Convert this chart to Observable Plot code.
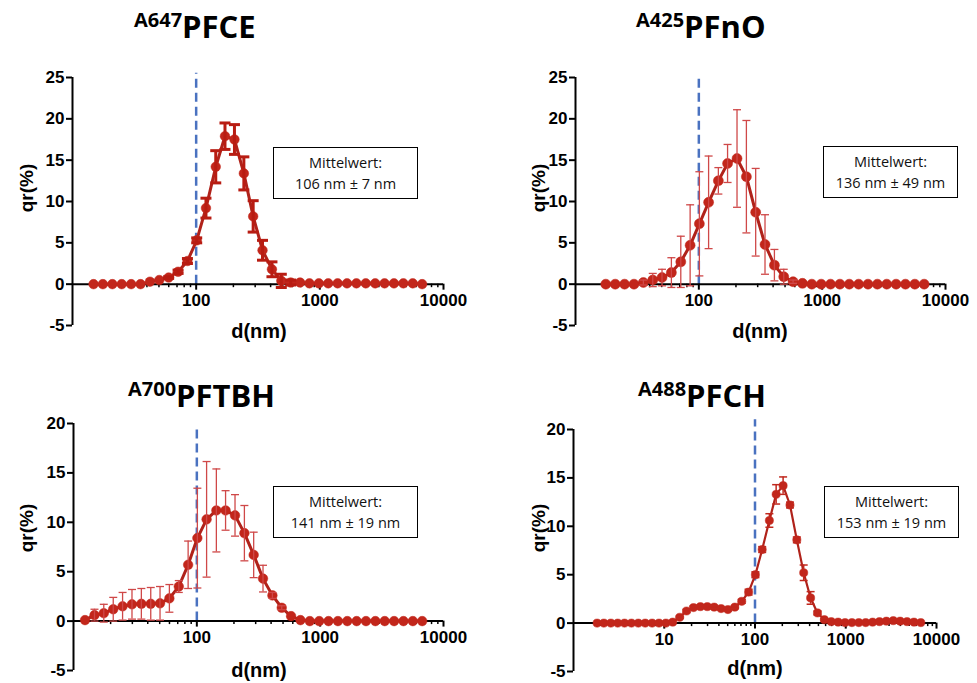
<!DOCTYPE html>
<html><head><meta charset="utf-8">
<script src="https://cdn.jsdelivr.net/npm/d3@7"></script>
<script src="https://cdn.jsdelivr.net/npm/@observablehq/plot@0.6"></script>
<style>
body{margin:0;background:#fff;}
#root{position:relative;width:977px;height:683px;overflow:hidden;background:#fff;}
.panel{position:absolute;}
.box{position:absolute;box-sizing:border-box;border:1.5px solid #000;background:#fff;display:flex;flex-direction:column;justify-content:center;align-items:center;font-family:"Open Sans",sans-serif;font-size:14.5px;line-height:21px;color:#111;}
#overlay{position:absolute;left:0;top:0;pointer-events:none;}
</style></head><body><div id="root"></div>
<script>
// Size bins (nm), log-spaced
const diameters = [1.82, 2.16, 2.58, 3.07, 3.65, 4.35, 5.18, 6.17, 7.35, 8.75, 10.42,
  12.4, 14.8, 17.6, 21.0, 25.0, 29.8, 35.5, 42.3, 50.3, 59.9, 71.4, 85.0, 101,
  120, 144, 171, 204, 243, 289, 344, 410, 488, 581, 692, 824, 982, 1169, 1393,
  1659, 1976, 2353, 2803, 3338, 3976, 4735, 5640, 6717];

// A647 PFCE (starts at bin 12 = 14.8 nm)
const qrA647 = [0,0,0,0,0,0,0.3,0.5,0.8,1.5,2.8,5.3,9.2,14.2,17.9,17.5,13.4,8.2,4.1,1.8,0.4,0.2,0.2,0.1,0.1,0.1,0.1,0.1,0.1,0.1,0.1,0.1,0.1,0.1,0.1,0];
const errA647 = [0,0,0,0,0,0,0,0,0.1,0.2,0.3,0.3,1.2,1.95,1.6,1.8,2.0,1.9,1.2,0.9,0.8,0.3,0,0,0,0,0,0,0,0,0,0,0,0,0,0];

// A425 PFnO (starts at bin 13 = 17.6 nm)
const qrA425 = [0,0,0,0,0.2,0.5,0.8,1.4,2.7,4.7,7.3,9.9,12.5,14.6,15.2,13.0,8.7,4.8,2.3,0.9,0.3,0.1,0,0,0,0,0,0,0,0,0,0,0,0,0];
const errA425 = [0,0,0,0,0.3,0.8,1.0,1.8,3.1,4.9,6.3,5.6,1.6,2.3,5.9,6.8,5.3,3.6,1.9,0.9,0.2,0,0,0,0,0,0,0,0,0,0,0,0,0,0];

// A700 PFTBH (starts at bin 11 = 12.4 nm)
const qrA700 = [0.1,0.6,0.8,1.2,1.5,1.7,1.75,1.75,1.8,2.3,3.5,5.7,8.4,10.3,11.2,11.2,10.7,8.9,6.7,4.3,2.6,1.35,0.5,0.1,0,0,0,0,0,0,0,0,0,0,0,0,0];
const errA700 = [0,0.6,0.9,1.2,1.4,1.5,1.55,1.65,1.7,1.4,0.6,2.4,5.05,5.85,4.2,2.0,2.1,2.8,2.3,1.35,0.3,0.2,0,0,0,0,0,0,0,0,0,0,0,0,0,0,0];

// A488 PFCH (starts at bin 0 = 1.82 nm)
const qrA488 = [0,0,0,0,0,0,0,0,0,0,0,0.1,0.6,1.25,1.6,1.7,1.7,1.65,1.5,1.4,1.65,2.25,3.2,5.0,7.6,10.6,13.3,14.2,12.2,8.6,5.2,2.6,1.05,0.35,0.15,0.1,0.05,0.05,0.05,0.05,0.1,0.15,0.2,0.25,0.2,0.15,0.1,0.05];
const errA488 = [0,0,0,0,0,0,0,0,0,0,0,0,0.1,0.15,0.15,0.15,0.15,0.15,0.15,0.15,0.15,0.2,0.3,0.3,0.3,0.7,1.0,0.9,0.3,0.3,0.8,0.65,0.2,0.1,0,0,0,0,0,0,0,0,0,0,0,0,0,0];

const titleSup = ["A647", "A425", "A700", "A488"];
const titleMain = ["PFCE", "PFnO", "PFTBH", "PFCH"];
const meanText = ["106 nm ± 7 nm", "136 nm ± 49 nm", "141 nm ± 19 nm", "153 nm ± 19 nm"];
const yTicksTop = [-5, 0, 5, 10, 15, 20, 25];
const yTicksBottom = [-5, 0, 5, 10, 15, 20];
const xTicks3 = [100, 1000, 10000];
const xTicks4 = [10, 100, 1000, 10000];
const minorTicks = [2,3,4,5,6,7,8,9,20,30,40,50,60,70,80,90,200,300,400,500,600,700,800,900,2000,3000,4000,5000,6000,7000,8000,9000];

const dotColor = "#c2261b";
const lineColor = "#b0221a";
const dashColor = "#4a72c0";

const panels = [
  {qr: qrA647, err: errA647, start: 12, left: 0, top: 0, width: 488, height: 345, ml: 72, mr: 45, mt: 77, mb: 20,
   xDomain: [10, 10000], yDomain: [-5, 25], yTicks: yTicksTop, xTicks: xTicks3, dashTop: 25.5,
   r: 4.8, lw: 3, errColor: "#b81c12", errW: 3, capR: 5.5,
   title: {x: 134, y: 38}, ylab: {x: 26, y: 188}, xlab: {x: 259, y: 338}, box: {x: 273, y: 147, w: 145, h: 52}},
  {qr: qrA425, err: errA425, start: 13, left: 488, top: 0, width: 489, height: 345, ml: 87, mr: 32, mt: 77, mb: 20,
   xDomain: [10, 10000], yDomain: [-5, 25], yTicks: yTicksTop, xTicks: xTicks3, dashTop: 25.4,
   r: 5, lw: 3, errColor: "#cf4848", errW: 1.3, capR: 4,
   title: {x: 636, y: 38}, ylab: {x: 538, y: 188}, xlab: {x: 760, y: 338}, box: {x: 823, y: 146, w: 135, h: 52}},
  {qr: qrA700, err: errA700, start: 11, left: 0, top: 345, width: 488, height: 338, ml: 73, mr: 45, mt: 78, mb: 13,
   xDomain: [10, 10000], yDomain: [-5, 20], yTicks: yTicksBottom, xTicks: xTicks3, dashTop: 19.4,
   r: 4.8, lw: 3, errColor: "#cf4848", errW: 1.3, capR: 4,
   title: {x: 128, y: 407}, ylab: {x: 26, y: 528}, xlab: {x: 259, y: 677}, box: {x: 273, y: 486, w: 145, h: 52}},
  {qr: qrA488, err: errA488, start: 0, left: 488, top: 345, width: 489, height: 338, ml: 85, mr: 41, mt: 84, mb: 12,
   xDomain: [1, 10000], yDomain: [-5, 20], yTicks: yTicksBottom, xTicks: xTicks4, dashTop: 21,
   r: 4.1, lw: 2.2, errColor: "#c0281e", errW: 1.5, capR: 4,
   title: {x: 638, y: 407}, ylab: {x: 538, y: 528}, xlab: {x: 755, y: 675}, box: {x: 824, y: 486, w: 135, h: 52}}
];

const cap = {draw(ctx, size) { const h = Math.sqrt(size / Math.PI); ctx.moveTo(-h, 0); ctx.lineTo(h, 0); }};

const root = document.getElementById("root");

panels.forEach((p, k) => {
  const rows = p.qr.map((v, i) => ({d: diameters[p.start + i], qr: v, err: p.err[i]}));
  const errRows = rows.filter(r => r.err > 0);
  const innerH = p.height - p.mt - p.mb;
  const off = innerH * (0 - p.yDomain[0]) / (p.yDomain[1] - p.yDomain[0]);
  const minor = minorTicks.filter(t => t > p.xDomain[0] && t < p.xDomain[1]);
  const chart = Plot.plot({
    width: p.width, height: p.height,
    marginLeft: p.ml, marginRight: p.mr, marginTop: p.mt, marginBottom: p.mb,
    style: {fontFamily: "'Liberation Sans', Arial, sans-serif", fontSize: "17px", fontWeight: "bold", color: "#000", background: "transparent", overflow: "visible"},
    x: {type: "log", domain: p.xDomain, label: null},
    y: {domain: p.yDomain, label: null},
    marks: [
      Plot.ruleX([100], {y1: 0, y2: p.dashTop, stroke: dashColor, strokeWidth: 2.5, strokeDasharray: "9,5"}),
      Plot.ruleY([0], {stroke: "#000", strokeWidth: 2}),
      Plot.ruleX([p.xDomain[0]], {stroke: "#000", strokeWidth: 2}),
      Plot.axisY({ticks: p.yTicks, tickSize: 6, tickPadding: 2, strokeWidth: 2, label: null, tickFormat: d => String(d)}),
      Plot.axisX({ticks: p.xTicks, tickSize: 6, tickPadding: 4, strokeWidth: 2, dy: -off, label: null, tickFormat: d => String(d)}),
      Plot.axisX({ticks: minor, tickSize: 3.5, strokeWidth: 1.5, dy: -off, label: null, tickFormat: () => ""}),
      Plot.line(rows, {x: "d", y: "qr", stroke: lineColor, strokeWidth: p.lw}),
      Plot.dot(rows, {x: "d", y: "qr", r: p.r, fill: dotColor, stroke: dotColor, strokeWidth: 0.5}),
      Plot.ruleX(errRows, {x: "d", y1: d => d.qr - d.err, y2: d => d.qr + d.err, stroke: p.errColor, strokeWidth: p.errW}),
      Plot.dot(errRows, {x: "d", y: d => d.qr + d.err, symbol: cap, r: p.capR, fill: "none", stroke: p.errColor, strokeWidth: p.errW}),
      Plot.dot(errRows, {x: "d", y: d => d.qr - d.err, symbol: cap, r: p.capR, fill: "none", stroke: p.errColor, strokeWidth: p.errW})
    ]
  });
  const wrap = document.createElement("div");
  wrap.className = "panel";
  wrap.style.left = p.left + "px";
  wrap.style.top = p.top + "px";
  wrap.appendChild(chart);
  root.appendChild(wrap);

  const box = document.createElement("div");
  box.className = "box";
  box.style.left = p.box.x + "px"; box.style.top = p.box.y + "px";
  box.style.width = p.box.w + "px"; box.style.height = p.box.h + "px";
  box.innerHTML = "<div>Mittelwert:</div><div>" + meanText[k] + "</div>";
  root.appendChild(box);
});

// overlay with titles and axis labels
const NS = "http://www.w3.org/2000/svg";
const ov = document.createElementNS(NS, "svg");
ov.setAttribute("id", "overlay");
ov.setAttribute("width", 977); ov.setAttribute("height", 683);
panels.forEach((p, k) => {
  const t = document.createElementNS(NS, "text");
  t.setAttribute("x", p.title.x); t.setAttribute("y", p.title.y);
  t.setAttribute("font-family", "'Open Sans', sans-serif");
  t.setAttribute("font-weight", "bold");
  const s1 = document.createElementNS(NS, "tspan");
  s1.setAttribute("font-size", "20"); s1.setAttribute("dy", "-11"); s1.textContent = titleSup[k];
  const s2 = document.createElementNS(NS, "tspan");
  s2.setAttribute("font-size", "31"); s2.setAttribute("dy", "11"); s2.textContent = titleMain[k];
  t.appendChild(s1); t.appendChild(s2);
  ov.appendChild(t);

  const yl = document.createElementNS(NS, "text");
  yl.setAttribute("transform", `translate(${p.ylab.x},${p.ylab.y}) rotate(-90)`);
  yl.setAttribute("text-anchor", "middle");
  yl.setAttribute("dy", "0.35em");
  yl.setAttribute("font-family", "'Liberation Sans', Arial, sans-serif");
  yl.setAttribute("font-weight", "bold");
  yl.setAttribute("font-size", "19");
  yl.textContent = "qr(%)";
  ov.appendChild(yl);

  const xl = document.createElementNS(NS, "text");
  xl.setAttribute("x", p.xlab.x); xl.setAttribute("y", p.xlab.y);
  xl.setAttribute("text-anchor", "middle");
  xl.setAttribute("font-family", "'Liberation Sans', Arial, sans-serif");
  xl.setAttribute("font-weight", "bold");
  xl.setAttribute("font-size", "20");
  xl.textContent = "d(nm)";
  ov.appendChild(xl);
});
root.appendChild(ov);
</script>
</body></html>
